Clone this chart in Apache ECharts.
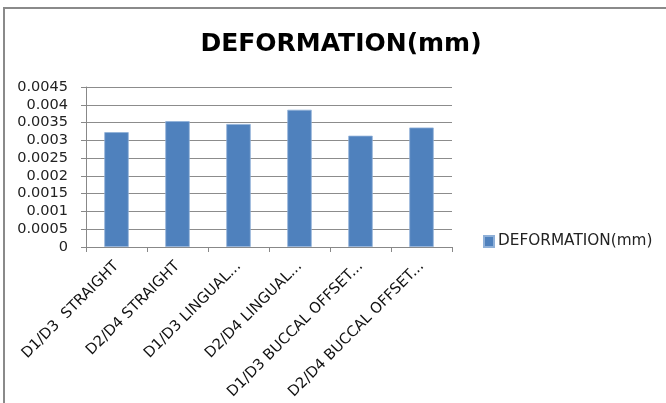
<!DOCTYPE html>
<html>
<head>
<meta charset="utf-8">
<script src="https://cdn.jsdelivr.net/npm/echarts@6/dist/echarts.min.js"></script>
<style>
  html, body { margin: 0; padding: 0; background: #fff; }
  #chart { width: 666px; height: 403px; }
</style>
</head>
<body>
<div id="chart"></div>
<script>
// Deformation per configuration (mm)
const categories = [
  'D1/D3  STRAIGHT',
  'D2/D4 STRAIGHT',
  'D1/D3 LINGUAL...',
  'D2/D4 LINGUAL...',
  'D1/D3 BUCCAL OFFSET...',
  'D2/D4 BUCCAL OFFSET...'
];
const deformation = [0.00323, 0.00354, 0.00346, 0.00386, 0.00313, 0.00336];
const yTicks = ['0', '0.0005', '0.001', '0.0015', '0.002', '0.0025', '0.003', '0.0035', '0.004', '0.0045'];
const seriesName = 'DEFORMATION(mm)';
const titleText = 'DEFORMATION(mm)';

const font = '"DejaVu Sans", "Liberation Sans", sans-serif';
const chart = echarts.init(document.getElementById('chart'), null, { renderer: 'canvas' });

chart.setOption({
  animation: false,
  backgroundColor: '#ffffff',
  title: {
    text: titleText,
    left: 336,
    top: 27,
    textAlign: 'center',
    textStyle: { fontFamily: font, fontWeight: 'bold', fontSize: 25, color: '#000' }
  },
  legend: {
    data: [seriesName],
    left: 478,
    top: 229,
    icon: 'rect',
    itemWidth: 10,
    itemHeight: 11,
    itemGap: 4,
    textStyle: { fontFamily: font, fontSize: 15.3, color: '#222', padding: [0, 0, 0, -1] }
  },
  grid: { left: 86, right: 214, top: 87, bottom: 156, containLabel: false },
  xAxis: {
    type: 'category',
    data: categories,
    axisLine: { lineStyle: { color: '#888', width: 1 } },
    axisTick: { show: true, alignWithLabel: false, length: 5, lineStyle: { color: '#888' } },
    axisLabel: {
      interval: 0,
      rotate: 45,
      margin: 17,
      fontFamily: font,
      fontSize: 14.8,
      color: '#111'
    }
  },
  yAxis: {
    type: 'value',
    min: 0,
    max: 0.0045,
    interval: 0.0005,
    axisLine: { show: true, lineStyle: { color: '#888', width: 1 } },
    axisTick: { show: true, length: 5, lineStyle: { color: '#888' } },
    splitLine: { lineStyle: { color: '#8c8c8c', width: 1 } },
    axisLabel: {
      margin: 18,
      fontFamily: font,
      fontSize: 14.5,
      color: '#222',
      padding: [4, 0, 0, 0],
      formatter: function (v) {
        const i = Math.round(v / 0.0005);
        return yTicks[i] !== undefined ? yTicks[i] : '';
      }
    }
  },
  series: [{
    name: seriesName,
    type: 'bar',
    data: deformation,
    barWidth: '40%',
    itemStyle: { color: '#4f81bd', borderColor: '#8fb0d8', borderWidth: 0.8 }
  }],
  graphic: [{
    type: 'rect',
    shape: { x: 4, y: 8, width: 700, height: 420 },
    style: { fill: 'none', stroke: '#8a8a8a', lineWidth: 2 },
    silent: true
  }]
});
</script>
</body>
</html>
